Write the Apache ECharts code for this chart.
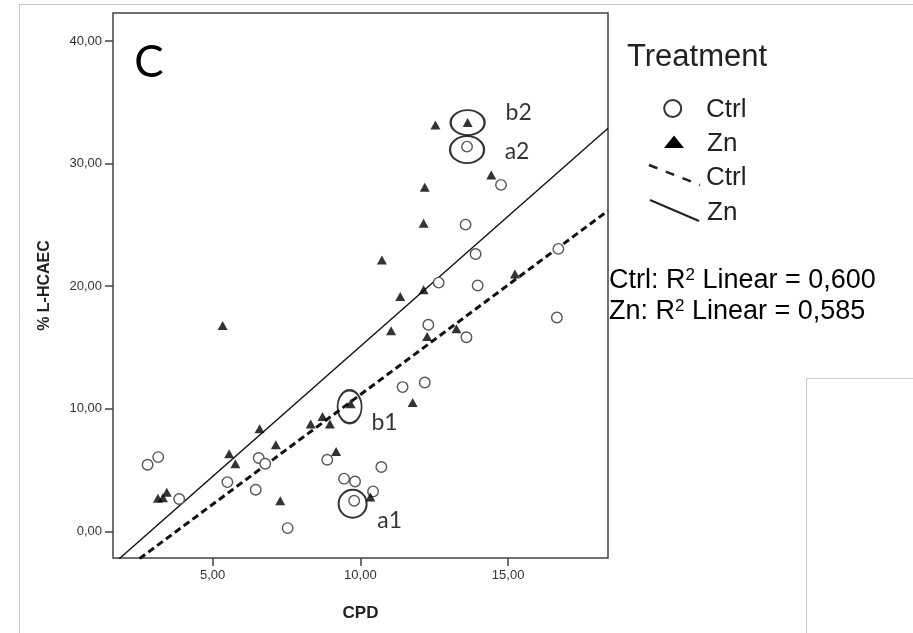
<!DOCTYPE html>
<html><head><meta charset="utf-8">
<script src="https://cdn.jsdelivr.net/npm/echarts@6/dist/echarts.min.js"></script>
<style>html,body{margin:0;padding:0;background:#fff}#c{width:913px;height:633px}</style>
</head><body><div id="c"></div>
<script>
// ---- data ----
const ctrlCPD   = [2.80,3.16,3.87,5.50,6.46,6.56,6.78,7.54,8.88,9.45,9.82,9.79,10.43,10.71,11.43,12.18,12.30,13.59,12.65,13.97,13.90,13.56,14.76,13.61,16.70,16.65];
const ctrlHCAEC = [5.44,6.06,2.64,4.02,3.40,5.98,5.52,0.27,5.84,4.30,4.07,2.50,3.26,5.25,11.77,12.14,16.85,15.84,20.29,20.05,22.63,25.02,28.26,31.38,23.04,17.44];
const znCPD     = [3.15,3.32,3.45,5.34,5.56,5.77,6.59,7.14,7.29,8.32,8.72,8.97,9.18,9.67,10.34,11.77,11.04,12.26,13.25,11.35,12.14,10.73,12.14,12.18,12.54,13.63,14.43,15.23];
const znHCAEC   = [2.70,2.75,3.20,16.79,6.33,5.52,8.37,7.07,2.50,8.75,9.37,8.75,6.52,10.41,2.80,10.51,16.36,15.90,16.52,19.15,19.70,22.14,25.13,28.07,33.15,33.34,29.07,21.00];
// fit lines: [slope, intercept]
const ctrlFit = [1.79, -6.75];
const znFit   = [2.123, -6.14];
const rSquared = {Ctrl: '0,600', Zn: '0,585'};
const xRange = [1.63, 18.38];
const yRange = [-2.17, 42.28];
const xTicks = [5, 10, 15];
const yTicks = [0, 10, 20, 30, 40];
const annotationLabels = ['b2', 'a2', 'b1', 'a1'];
const annotationRefs = [['zn', 25], ['ctrl', 23], ['zn', 13], ['ctrl', 11]];

// ---- build ----
const fmt = v => v.toFixed(2).replace('.', ',');
const pts = (xs, ys) => xs.map((x, i) => [x, ys[i]]);
const ctrlPts = pts(ctrlCPD, ctrlHCAEC);
const znPts = pts(znCPD, znHCAEC);
const fitLine = f => xRange.map(x => [x, f[0] * x + f[1]]);

const annStyle = {
  b2: {size: [34, 25], off: [0, 0], lab: [51, -10]},
  a2: {size: [34, 27], off: [0, 3], lab: [50, 2]},
  b1: {size: [24, 33], off: [-1, 3], lab: [35, 16]},
  a1: {size: [28, 28], off: [-1.5, 3], lab: [37, 17]}
};
const annData = annotationLabels.map((lab, i) => {
  const [g, idx] = annotationRefs[i];
  const p = g === 'zn' ? znPts[idx] : ctrlPts[idx];
  const s = annStyle[lab];
  return {
    value: p, symbolSize: s.size, symbolOffset: s.off,
    label: {show: true, formatter: lab, position: 'inside', offset: s.lab}
  };
});

const chart = echarts.init(document.getElementById('c'));
const TXT = '#222';
const rich = {
  a: {fontSize: 27, fontFamily: 'Liberation Sans', color: TXT},
  s: {fontSize: 17, fontFamily: 'Liberation Sans', color: TXT, verticalAlign: 'top', padding: [0, 0, 12, 0]}
};
chart.setOption({
  animation: false,
  textStyle: {fontFamily: 'Liberation Sans'},
  grid: {left: 113, top: 13, width: 495, height: 545, show: true, borderColor: '#444', borderWidth: 1.5, backgroundColor: 'transparent'},
  xAxis: {
    type: 'value', min: xRange[0], max: xRange[1],
    axisLine: {show: false, onZero: false},
    splitLine: {show: false},
    axisTick: {show: true, customValues: xTicks, length: 8, inside: false, lineStyle: {color: '#444', width: 1.5}},
    axisLabel: {customValues: xTicks, formatter: v => fmt(v), fontSize: 13, color: '#333', margin: 11},
    name: 'CPD', nameLocation: 'middle', nameGap: 47,
    nameTextStyle: {fontSize: 17, fontWeight: 'bold', color: TXT, fontFamily: 'Liberation Sans'}
  },
  yAxis: {
    type: 'value', min: yRange[0], max: yRange[1],
    axisLine: {show: false, onZero: false},
    splitLine: {show: false},
    axisTick: {show: true, customValues: yTicks, length: 8, inside: false, lineStyle: {color: '#444', width: 1.5}},
    axisLabel: {customValues: yTicks, formatter: v => fmt(v), fontSize: 13, color: '#333', margin: 11},
    name: '% L-HCAEC', nameLocation: 'middle', nameGap: 60, nameRotate: 90,
    nameTextStyle: {fontSize: 16, fontWeight: 'bold', color: TXT, fontFamily: 'Liberation Sans'}
  },
  series: [
    {name: 'Ctrl fit', type: 'line', data: fitLine(ctrlFit), symbol: 'none', clip: true,
     lineStyle: {color: '#111', width: 3, type: [7, 4]}, z: 3},
    {name: 'Zn fit', type: 'line', data: fitLine(znFit), symbol: 'none', clip: true,
     lineStyle: {color: '#111', width: 1.4, type: 'solid'}, z: 3},
    {name: 'Ctrl', type: 'scatter', data: ctrlPts, symbol: 'circle', symbolSize: 10.5,
     itemStyle: {color: '#fff', borderColor: '#555', borderWidth: 1.4, opacity: 1}, z: 4},
    {name: 'Zn', type: 'scatter', data: znPts, symbol: 'triangle', symbolSize: [10, 9],
     itemStyle: {color: '#000'}, z: 5},
    {name: 'annotations', type: 'scatter', data: annData, symbol: 'circle', z: 6, clip: false,
     itemStyle: {color: 'rgba(0,0,0,0)', borderColor: '#000', borderWidth: 2},
     label: {color: '#000', fontSize: 23, fontFamily: 'Lato'}, silent: true}
  ],
  graphic: [
    // page border artifacts
    {type: 'line', shape: {x1: 19, y1: 4.5, x2: 913, y2: 4.5}, style: {stroke: '#c8c8c8', lineWidth: 1}},
    {type: 'line', shape: {x1: 19.5, y1: 4, x2: 19.5, y2: 633}, style: {stroke: '#c8c8c8', lineWidth: 1}},
    {type: 'line', shape: {x1: 806.5, y1: 378.5, x2: 913, y2: 378.5}, style: {stroke: '#c8c8c8', lineWidth: 1}},
    {type: 'line', shape: {x1: 806.5, y1: 378, x2: 806.5, y2: 633}, style: {stroke: '#c8c8c8', lineWidth: 1}},
    // panel letter
    {type: 'text', x: 149, y: 63, style: {text: 'C', font: '44px Lato', fill: '#000', align: 'center', verticalAlign: 'middle'}},
    // legend
    {type: 'text', x: 627, y: 57, style: {text: 'Treatment', font: '31px "Liberation Sans"', fill: TXT, verticalAlign: 'middle'}},
    {type: 'circle', shape: {cx: 672.7, cy: 108.5, r: 8.5}, style: {fill: '#fff', stroke: '#333', lineWidth: 2}},
    {type: 'text', x: 706, y: 110, style: {text: 'Ctrl', font: '26px "Liberation Sans"', fill: TXT, verticalAlign: 'middle'}},
    {type: 'polygon', shape: {points: [[664, 148], [684, 148], [674, 135.5]]}, style: {fill: '#000'}},
    {type: 'text', x: 707, y: 144, style: {text: 'Zn', font: '26px "Liberation Sans"', fill: TXT, verticalAlign: 'middle'}},
    {type: 'line', shape: {x1: 649, y1: 165, x2: 700, y2: 185}, style: {stroke: '#222', lineWidth: 2.5, lineDash: [9, 9]}},
    {type: 'text', x: 706, y: 178, style: {text: 'Ctrl', font: '26px "Liberation Sans"', fill: TXT, verticalAlign: 'middle'}},
    {type: 'line', shape: {x1: 650, y1: 200, x2: 699, y2: 221}, style: {stroke: '#222', lineWidth: 2}},
    {type: 'text', x: 707, y: 213, style: {text: 'Zn', font: '26px "Liberation Sans"', fill: TXT, verticalAlign: 'middle'}},
    {type: 'text', x: 609, y: 281, style: {text: '{a|Ctrl: R}{s|2}{a| Linear = ' + rSquared.Ctrl + '}', verticalAlign: 'middle', rich: rich}},
    {type: 'text', x: 609, y: 312, style: {text: '{a|Zn: R}{s|2}{a| Linear = ' + rSquared.Zn + '}', verticalAlign: 'middle', rich: rich}}
  ]
});
</script></body></html>
